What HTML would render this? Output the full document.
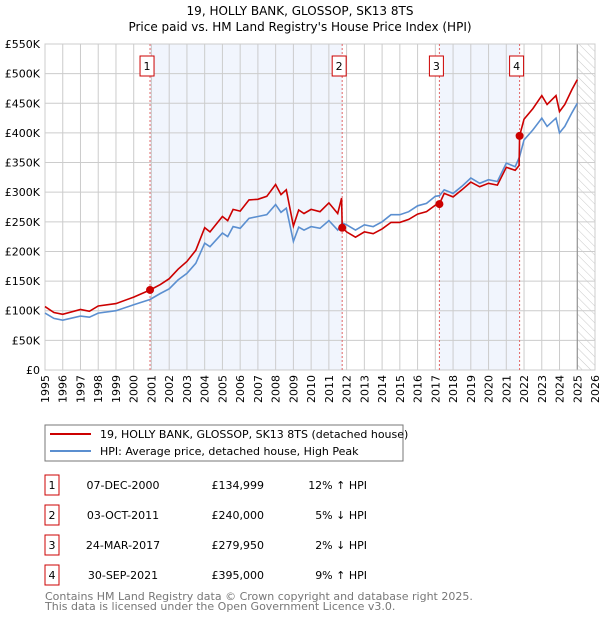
<!DOCTYPE html>
<html><head><meta charset="utf-8"><style>
body{margin:0;background:#fff;font-family:"Liberation Sans","DejaVu Sans",sans-serif}
svg text{font-family:"DejaVu Sans","Liberation Sans",sans-serif}
</style></head><body>
<svg id="c" width="600" height="620" xmlns="http://www.w3.org/2000/svg">
<defs><pattern id="hatch" width="6" height="6" patternUnits="userSpaceOnUse" patternTransform="rotate(-45)"><line x1="0" y1="0" x2="0" y2="6" stroke="#bbb" stroke-width="0.8"/></pattern></defs>
<text x="300" y="15" text-anchor="middle" font-size="12">19, HOLLY BANK, GLOSSOP, SK13 8TS</text>
<text x="300" y="31" text-anchor="middle" font-size="12">Price paid vs. HM Land Registry's House Price Index (HPI)</text>
<g id="plot"></g>
<rect x="45" y="425" width="358" height="36" fill="#fff" stroke="#777"/>
<line x1="50" y1="434" x2="91" y2="434" stroke="#cc0000" stroke-width="2"/>
<text x="100" y="438" font-size="11">19, HOLLY BANK, GLOSSOP, SK13 8TS (detached house)</text>
<line x1="50" y1="451" x2="91" y2="451" stroke="#5b8fd0" stroke-width="2"/>
<text x="100" y="455" font-size="11">HPI: Average price, detached house, High Peak</text>
<g id="table" font-size="11"></g>
<text x="45" y="600" font-size="11" fill="#777">Contains HM Land Registry data © Crown copyright and database right 2025.</text>
<text x="45" y="610" font-size="11" fill="#777">This data is licensed under the Open Government Licence v3.0.</text>
</svg>
<script>
const hpiYears=[1995,1995.5,1996,1997,1997.5,1998,1999,2000,2000.92,2001.5,2002,2002.5,2003,2003.5,2004,2004.3,2005,2005.3,2005.6,2006,2006.5,2007,2007.5,2008,2008.3,2008.6,2009,2009.3,2009.6,2010,2010.5,2011,2011.5,2011.75,2012,2012.5,2013,2013.5,2014,2014.5,2015,2015.5,2016,2016.5,2017,2017.23,2017.5,2018,2018.5,2019,2019.5,2020,2020.5,2021,2021.5,2021.75,2022,2022.5,2023,2023.3,2023.8,2024,2024.3,2024.7,2025];
const hpiValues=[96,87,84,91,89,96,100,110,119,129,137,152,163,180,214,208,231,225,242,239,256,259,262,279,266,273,217,241,236,242,239,252,236,248,245,236,245,242,250,262,262,267,277,281,293,294,304,298,310,324,315,321,318,349,343,360,388,405,425,411,425,400,411,434,450];
const redYears=[1995,1995.5,1996,1997,1997.5,1998,1999,2000,2000.92,2001.5,2002,2002.5,2003,2003.5,2004,2004.3,2005,2005.3,2005.6,2006,2006.5,2007,2007.5,2008,2008.3,2008.6,2009,2009.3,2009.6,2010,2010.5,2011,2011.5,2011.72,2011.75,2012,2012.5,2013,2013.5,2014,2014.5,2015,2015.5,2016,2016.5,2017,2017.23,2017.5,2018,2018.5,2019,2019.5,2020,2020.5,2021,2021.5,2021.72,2021.75,2022,2022.5,2023,2023.3,2023.8,2024,2024.3,2024.7,2025];
const redValues=[107,97,94,102,99,108,112,123,135,144,154,170,183,202,240,233,259,252,271,268,287,288,293,313,296,304,243,270,264,271,267,282,264,290,240,233,224,233,230,238,249,249,254,263,267,278,280,298,292,304,317,309,315,312,342,337,345,395,423,441,463,448,463,436,448,473,490];
const saleLabels=["1","2","3","4"];
const saleYears=[2000.92,2011.75,2017.23,2021.75];
const salePrices=[134999,240000,279950,395000];
const saleDates=["07-DEC-2000","03-OCT-2011","24-MAR-2017","30-SEP-2021"];
const salePriceText=["£134,999","£240,000","£279,950","£395,000"];
const saleHpiText=["12% ↑ HPI","5% ↓ HPI","2% ↓ HPI","9% ↑ HPI"];
const yTicks=[0,50,100,150,200,250,300,350,400,450,500,550];
const xTicks=[];for(let y=1995;y<=2026;y++)xTicks.push(y);
const L=45,R=595,T=44,B=370,X0=1995,X1=2026,YMAX=550;
const sx=y=>L+(y-X0)/(X1-X0)*(R-L);
const sy=v=>B-v/YMAX*(B-T);
const NS="http://www.w3.org/2000/svg";
const g=document.getElementById('plot');
function mk(tag,attrs,parent){const e=document.createElementNS(NS,tag);for(const k in attrs)e.setAttribute(k,attrs[k]);(parent||g).appendChild(e);return e;}
let e;
e=mk('rect',{x:L,y:T,width:R-L,height:B-T,fill:'#fff'});


[[0,1],[2,3]].forEach(p=>{
  e=mk('rect',{x:sx(saleYears[p[0]]),y:T,width:sx(saleYears[p[1]])-sx(saleYears[p[0]]),height:B-T,fill:'#eef3fc',opacity:0.8});
  
  
});
e=mk('rect',{x:sx(2025.0),y:T,width:R-sx(2025.0),height:B-T,fill:'url(#hatch)'});


yTicks.forEach(v=>{
  e=mk('line',{x1:L,x2:R,y1:sy(v),y2:sy(v),stroke:'#ccc','stroke-width':1});
  
  
  e=mk('text',{x:40,y:sy(v)+4,'text-anchor':'end','font-size':11});
  e.textContent=v===0?'£0':'£'+v+'K';
  
  
});
xTicks.forEach(y=>{
  e=mk('line',{x1:sx(y),x2:sx(y),y1:T,y2:B,stroke:'#ccc','stroke-width':1});
  
  
  e=mk('text',{x:0,y:0,'text-anchor':'end','font-size':11,transform:`translate(${sx(y)+4},${B+5}) rotate(-90)`});
  e.textContent=y;
  
  
});
e=mk('line',{x1:sx(2025.0),x2:sx(2025.0),y1:T,y2:B,stroke:'#888','stroke-width':1});


e=mk('rect',{x:L,y:T,width:R-L,height:B-T,fill:'none',stroke:'#ccc'});


saleYears.forEach((y,i)=>{
  e=mk('line',{x1:sx(y),x2:sx(y),y1:T,y2:B,stroke:'#e06666','stroke-width':1,'stroke-dasharray':'2,2'});
  
  
});
const pts=(xs,vs)=>xs.map((x,i)=>sx(x).toFixed(1)+','+sy(vs[i]).toFixed(1)).join(' ');
e=mk('polyline',{points:pts(hpiYears,hpiValues),fill:'none',stroke:'#5b8fd0','stroke-width':1.6});


e=mk('polyline',{points:pts(redYears,redValues),fill:'none',stroke:'#cc0000','stroke-width':1.6});


saleYears.forEach((y,i)=>{
  e=mk('circle',{cx:sx(y),cy:sy(salePrices[i]/1000),r:4,fill:'#cc0000'});
  
  
  e=mk('rect',{x:sx(y)-10,y:56,width:14,height:20,fill:'#fff',stroke:'#cc0000'});
  
  
  e=mk('text',{x:sx(y)-3,y:70,'text-anchor':'middle','font-size':11});
  e.textContent=saleLabels[i];
  
  
});
const tb=document.getElementById('table');
saleLabels.forEach((l,i)=>{
  const y=485+i*30;
  e=mk('rect',{x:45,y:y-10,width:14,height:20,fill:'#fff',stroke:'#cc0000'},tb);
  
  
  e=mk('text',{x:52,y:y+4,'text-anchor':'middle'},tb);e.textContent=l;
  
  
  e=mk('text',{x:123,y:y+4,'text-anchor':'middle'},tb);e.textContent=saleDates[i];
  
  
  e=mk('text',{x:264,y:y+4,'text-anchor':'end'},tb);e.textContent=salePriceText[i];
  
  
  e=mk('text',{x:367,y:y+4,'text-anchor':'end'},tb);e.textContent=saleHpiText[i];
  
  
});
</script>
</body></html>
